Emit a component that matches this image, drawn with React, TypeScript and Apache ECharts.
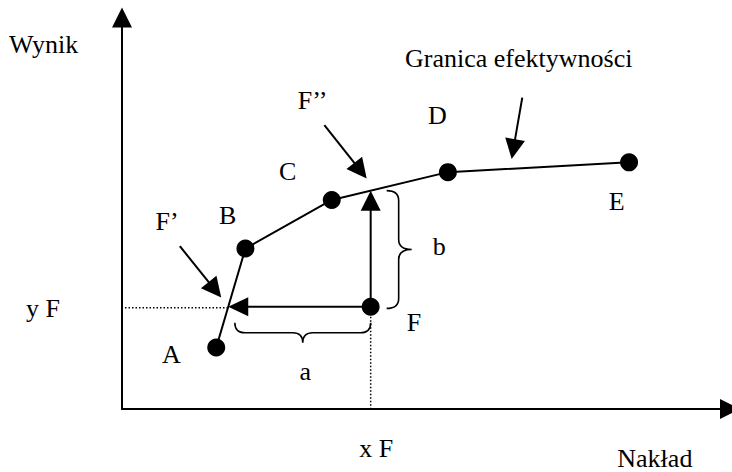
import React, { useEffect, useRef } from 'react';
import * as echarts from 'echarts';

// ---- data (conceptual units) ----
const frontierNames = ['A', 'B', 'C', 'D', 'E'];
const frontierInput = [15.5, 20.3, 34.5, 53.6, 83.4];
const frontierOutput = [15.7, 41.0, 53.4, 60.5, 63.0];
const unitName = 'F';
const unitInput = 40.9;
const unitOutput = 26.1;
const inputProjName = 'F’';
const outputProjName = 'F’’';
const xAxisName = 'Nakład';
const yAxisName = 'Wynik';
const xProjLabel = 'x F';
const yProjLabel = 'y F';
const gapInputLabel = 'a';
const gapOutputLabel = 'b';
const frontierCaption = 'Granica efektywności';

// ---- layout / style (pixel offsets) ----
const FONT = '26px "Liberation Serif", "Times New Roman", Times, serif';
const labelOffsets: Record<string, [number, number]> = {
  A: [-54.3, 7.3],
  B: [-26.4, -33.3],
  C: [-52.7, -28.3],
  D: [-20, -56.6],
  E: [-20.3, 38.7],
  F: [36, 15.7],
};

export default function App() {
  const ref = useRef<HTMLDivElement>(null);
  useEffect(() => {
    if (!ref.current) return;
    const chart = echarts.init(ref.current, null, { renderer: 'svg' });

    // derived projections of F on the frontier
    const [xA, xB, xC, xD] = frontierInput;
    const [yA, yB, yC, yD] = frontierOutput;
    const f1x = xA + ((unitOutput - yA) / (yB - yA)) * (xB - xA);
    const f2y = yC + ((unitInput - xC) / (xD - xC)) * (yD - yC);

    const txt = (text: string, x: number, y: number, align = 'left') => ({
      type: 'text',
      x,
      y,
      style: {
        text,
        font: FONT,
        fill: '#000',
        align,
        verticalAlign: 'middle',
      },
    });

    const arrow = (from: number[], to: number[], headLen = 20, headW = 20) => {
      const dx = to[0] - from[0];
      const dy = to[1] - from[1];
      const L = Math.hypot(dx, dy);
      const ux = dx / L, uy = dy / L;
      const bx = to[0] - ux * headLen, by = to[1] - uy * headLen;
      const px = -uy, py = ux;
      return [
        {
          type: 'line',
          shape: { x1: from[0], y1: from[1], x2: bx + ux * 2, y2: by + uy * 2 },
          style: { stroke: '#000', lineWidth: 2 },
        },
        {
          type: 'polygon',
          shape: {
            points: [
              [to[0], to[1]],
              [bx + px * headW / 2, by + py * headW / 2],
              [bx - px * headW / 2, by - py * headW / 2],
            ],
          },
          style: { fill: '#000' },
        },
      ];
    };

    const brace = (p1: number[], p2: number[], n: number[], hb: number, ht: number, r: number) => {
      const L = Math.hypot(p2[0] - p1[0], p2[1] - p1[1]);
      const u = [(p2[0] - p1[0]) / L, (p2[1] - p1[1]) / L];
      const m = [(p1[0] + p2[0]) / 2, (p1[1] + p2[1]) / 2];
      const P = (b: number[], a: number, h: number) => `${b[0] + u[0] * a + n[0] * h},${b[1] + u[1] * a + n[1] * h}`;
      const d =
        `M${P(p1, 0, 0)} Q${P(p1, 0, hb)} ${P(p1, r, hb)} L${P(m, -r, hb)} Q${P(m, 0, hb)} ${P(m, 0, ht)} ` +
        `Q${P(m, 0, hb)} ${P(m, r, hb)} L${P(p2, -r, hb)} Q${P(p2, 0, hb)} ${P(p2, 0, 0)}`;
      return {
        type: 'path',
        shape: { pathData: d },
        style: { fill: 'none', stroke: '#000', lineWidth: 1.6 },
      };
    };

    const renderItem = (_params: any, api: any) => {
      const c = (x: number, y: number) => api.coord([x, y]);
      const pF = c(unitInput, unitOutput);
      const pF1 = c(f1x, unitOutput);
      const pF2 = c(unitInput, f2y);
      const pY = c(0, unitOutput);
      const pX = c(unitInput, 0);
      const pD = c(frontierInput[3], frontierOutput[3]);
      const pE = c(frontierInput[4], frontierOutput[4]);
      const t = 0.352;
      const pDE = [pD[0] + (pE[0] - pD[0]) * t, pD[1] + (pE[1] - pD[1]) * t];
      const children: any[] = [];
      // dotted guides
      children.push({
        type: 'line',
        shape: { x1: pY[0] + 3, y1: pY[1] + 1, x2: pF1[0], y2: pF1[1] + 1 },
        style: { stroke: '#000', lineWidth: 1.5, lineDash: [1.5, 2] },
      });
      children.push({
        type: 'line',
        shape: { x1: pF[0], y1: pF[1] + 10, x2: pX[0], y2: pX[1] },
        style: { stroke: '#000', lineWidth: 1.5, lineDash: [1.5, 2] },
      });
      // main arrows
      children.push(...arrow(pF, pF1, 20, 19));
      children.push(...arrow(pF, pF2, 20, 20));
      // pointer arrows
      children.push(...arrow([pF1[0] - 48.4, pF1[1] - 60.6], [pF1[0] - 7, pF1[1] - 9.3], 20, 20));
      children.push(...arrow([pF2[0] - 46.3, pF2[1] - 65.6], [pF2[0] - 4, pF2[1] - 12.1], 20, 20));
      children.push(...arrow([pDE[0] + 10.6, pDE[1] - 71.1], [pDE[0], pDE[1] - 9.8], 20, 20));
      // braces
      const aL = [pF1[0] + 6.6, pF[1] + 16];
      const aR = [pF[0], pF[1] + 16];
      children.push(brace(aL, aR, [0, 1], 10, 20, 10));
      const bT = [pF[0] + 16, pF2[1]];
      const bB = [pF[0] + 16, pF[1] + 1.6];
      children.push(brace(bT, bB, [1, 0], 12, 25, 10));
      // labels
      frontierNames.forEach((nm, i) => {
        const p = c(frontierInput[i], frontierOutput[i]);
        const o = labelOffsets[nm];
        children.push(txt(nm, p[0] + o[0], p[1] + o[1]));
      });
      children.push(txt(unitName, pF[0] + labelOffsets.F[0], pF[1] + labelOffsets.F[1]));
      children.push(txt(inputProjName, pF1[0] - 72.7, pF1[1] - 84.9));
      children.push(txt(outputProjName, pF2[0] - 73, pF2[1] - 90.6));
      children.push(txt(gapInputLabel, (aL[0] + aR[0]) / 2 + 2.5, aL[1] + 20 + 28.3, 'center'));
      children.push(txt(gapOutputLabel, bT[0] + 25 + 21, (bT[1] + bB[1]) / 2 - 2.8));
      children.push(txt(xProjLabel, pX[0] - 11.4, pX[1] + 39.4));
      children.push(txt(yProjLabel, pY[0] - 96, pY[1] + 1.7));
      return { type: 'group', children };
    };

    chart.setOption({
      animation: false,
      backgroundColor: '#fff',
      grid: { left: 122, right: 2, top: 17.5, bottom: 63 },
      xAxis: {
        type: 'value',
        min: 0,
        max: 100,
        axisLine: {
          show: true,
          lineStyle: { color: '#000', width: 2 },
          symbol: ['none', 'triangle'],
          symbolSize: [20, 20],
        },
        axisTick: { show: false },
        axisLabel: { show: false },
        splitLine: { show: false },
      },
      yAxis: {
        type: 'value',
        min: 0,
        max: 100,
        axisLine: {
          show: true,
          lineStyle: { color: '#000', width: 2 },
          symbol: ['none', 'triangle'],
          symbolSize: [20, 20],
        },
        axisTick: { show: false },
        axisLabel: { show: false },
        splitLine: { show: false },
      },
      graphic: [
        txt(yAxisName, 9, 44.7),
        txt(frontierCaption, 405, 58.4),
        txt(xAxisName, 617.3, 458.4),
      ],
      series: [
        {
          type: 'custom',
          coordinateSystem: 'cartesian2d',
          data: [[0, 0]],
          renderItem,
          z: 1,
          silent: true,
        },
        {
          type: 'line',
          data: frontierInput.map((x, i) => [x, frontierOutput[i]]),
          symbol: 'circle',
          symbolSize: 18,
          itemStyle: { color: '#000', opacity: 1 },
          lineStyle: { color: '#000', width: 2 },
          z: 3,
          silent: true,
        },
        {
          type: 'scatter',
          data: [[unitInput, unitOutput]],
          symbol: 'circle',
          symbolSize: 18,
          itemStyle: { color: '#000', opacity: 1 },
          z: 4,
          silent: true,
        },
      ],
    });
    return () => chart.dispose();
  }, []);
  return (
    <div
      ref={ref}
      style={{ position: 'fixed', left: 0, top: 0, width: 732, height: 472, background: '#fff' }}
    />
  );
}
